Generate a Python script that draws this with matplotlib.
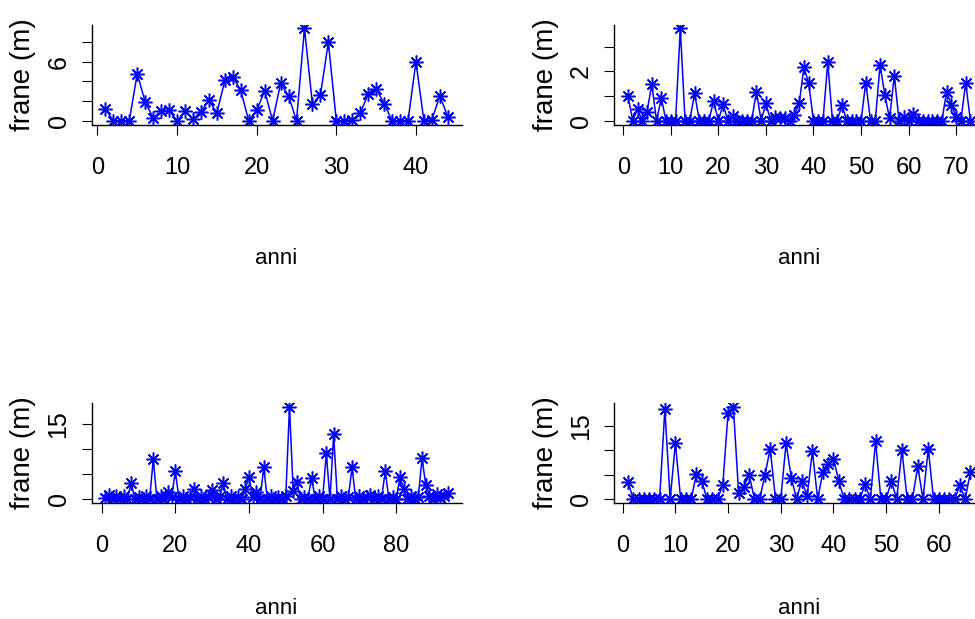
import matplotlib
matplotlib.use('Agg')
import matplotlib.pyplot as plt

# landslide series (frane, m) per year index
frane_a = [1.2, 0, 0, 0, 4.8, 1.9, 0.3, 0.95, 1.05, 0, 0.95, 0.2, 0.9, 2.1, 0.8,
           4.1, 4.45, 3.1, 0, 1.05, 3.05, 0, 3.8, 2.55, 0, 9.4, 1.7, 2.6, 8.0, 0,
           0, 0.1, 0.75, 2.75, 3.25, 1.75, 0, 0, 0, 6.0, 0, 0.1, 2.55, 0.4]

frane_b = [1.0, 0, 0.47, 0, 0.36, 1.48, 0, 0.92, 0, 0, 0, 3.74, 0, 0, 1.12,
           0, 0, 0, 0.81, 0, 0.67, 0, 0.2, 0, 0, 0, 0, 1.18, 0, 0.71,
           0, 0.15, 0.1, 0.1, 0, 0.24, 0.71, 2.17, 1.52, 0, 0, 0, 2.36, 0, 0,
           0.65, 0, 0, 0, 0, 1.55, 0, 0, 2.26, 1.05, 0.1, 1.82, 0, 0.17, 0,
           0.27, 0, 0, 0, 0, 0, 0, 1.18, 0.65, 0.17, 0, 1.55, 0]

frane_c = [0.3, 0.8, 0, 0.7, 0, 0.6, 0, 3.3, 0, 0.5, 0, 0.6, 0, 7.9, 0,
           0.6, 0, 1.5, 0.5, 5.5, 0, 0.6, 0, 0.5, 2.0, 0, 0.6, 0, 0.5, 1.9,
           0, 0.6, 3.2, 0, 0.6, 0, 0.5, 0, 2.0, 4.4, 0.5, 1.4, 0, 6.3, 0,
           0.6, 0, 0.5, 0, 0.6, 18.4, 1.7, 3.4, 0, 0.5, 0, 4.3, 0, 0.6, 0,
           9.1, 0, 12.9, 0, 0.6, 0, 0.5, 6.3, 0, 0.6, 0, 0.5, 0.8, 0, 0.6,
           0, 5.6, 0, 0.5, 0, 4.4, 2.1, 0, 0.6, 0, 0.5, 8.1, 2.9, 0.7, 0,
           1.0, 0.3, 0.6, 1.2]

frane_d = [3.5, 0, 0, 0, 0, 0, 0, 18.4, 0, 11.4, 0, 0, 0, 5.2, 3.7,
           0, 0, 0, 2.95, 17.7, 18.9, 1.2, 2.5, 5.0, 0, 0, 5.0, 10.3, 0, 0,
           11.4, 4.4, 0, 3.8, 0.55, 9.8, 0, 5.5, 7.1, 8.2, 3.8, 0, 0, 0, 0,
           3.0, 0, 11.8, 0, 0, 3.7, 0, 10.0, 0, 0, 6.7, 0, 10.3, 0, 0,
           0, 0, 0, 2.8, 0, 5.5]

xticks_a = [0, 10, 20, 30, 40]
xticks_b = [0, 10, 20, 30, 40, 50, 60, 70]
xticks_c = [0, 20, 40, 60, 80]
xticks_d = [0, 10, 20, 30, 40, 50, 60]

yticks_a, ylabels_a = [0, 2, 4, 6, 8], ['0', '', '', '6', '']
yticks_b, ylabels_b = [0, 1, 2, 3], ['0', '', '2', '']
yticks_c, ylabels_c = [0, 5, 10, 15], ['0', '', '', '15']
yticks_d, ylabels_d = [0, 5, 10, 15], ['0', '', '', '15']

plt.rcParams['font.family'] = 'Liberation Sans'

W, H = 975, 619
fig = plt.figure(figsize=(W / 100, H / 100), dpi=100)


def add_panel(left, top, values, xticks, yticks, ylabels, xlabel_y, ylabel_x):
    # positions in pixels from the top-left corner of the picture
    width, height = 369.8, 99.8
    ax = fig.add_axes([left / W, 1 - (top + height) / H, width / W, height / H])
    n = len(values)
    x = list(range(1, n + 1))
    ax.plot(x, values, '-', color='#0000ff', lw=1.1,
            marker=(8, 2, 0), markersize=10, markeredgewidth=1.1)
    pad_x = 0.04 * (n - 1)
    lo, hi = min(values), max(values)
    pad_y = 0.04 * (hi - lo)
    ax.set_xlim(1 - pad_x, n + pad_x)
    ax.set_ylim(lo - pad_y, hi + pad_y)

    for side in ['top', 'right']:
        ax.spines[side].set_visible(False)
    for side in ['left', 'bottom']:
        ax.spines[side].set_linewidth(1.0)

    ax.set_xticks(xticks)
    ax.set_yticks(yticks)
    ax.set_yticklabels(ylabels, rotation=90, va='center', fontsize=18)
    ax.tick_params(axis='both', direction='out', length=7.2, width=0.8)
    ax.tick_params(axis='x', pad=16, labelsize=17)
    ax.tick_params(axis='y', pad=8)

    ax.set_xlabel('anni', fontsize=16)
    ax.xaxis.label.set_va('center')
    ax.xaxis.set_label_coords(0.5, (top + height - xlabel_y) / height)
    ax.set_ylabel('frane (m)', fontsize=20)
    ax.yaxis.label.set_va('center')
    ax.yaxis.set_label_coords((ylabel_x - left) / width, 0.5)
    return ax


add_panel(91.7, 24.7, frane_a, xticks_a, yticks_a, ylabels_a, 258, 23)
add_panel(614.3, 24.7, frane_b, xticks_b, yticks_b, ylabels_b, 258, 546)
add_panel(91.7, 403.0, frane_c, xticks_c, yticks_c, ylabels_c, 608, 23)
add_panel(614.3, 403.0, frane_d, xticks_d, yticks_d, ylabels_d, 608, 546)

plt.savefig('out.png', dpi=100)
